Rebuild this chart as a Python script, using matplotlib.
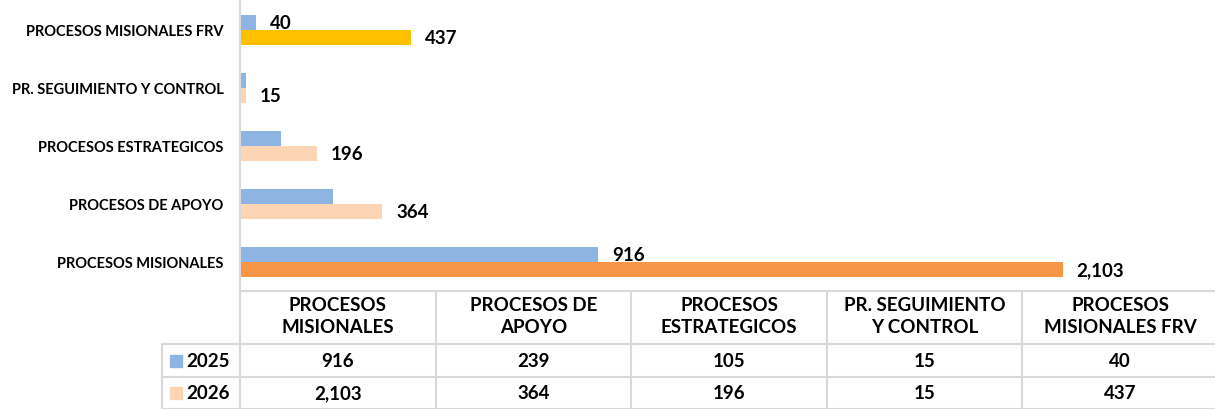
import matplotlib.pyplot as plt
from matplotlib.patches import Rectangle

plt.rcParams["font.family"] = ["Lato", "DejaVu Sans"]
plt.rcParams["font.weight"] = "bold"

categories = ["PROCESOS MISIONALES", "PROCESOS DE APOYO", "PROCESOS ESTRATEGICOS",
              "PR. SEGUIMIENTO Y CONTROL", "PROCESOS MISIONALES FRV"]
header_labels = ["PROCESOS\nMISIONALES", "PROCESOS DE\nAPOYO", "PROCESOS\nESTRATEGICOS",
                 "PR. SEGUIMIENTO\nY CONTROL", "PROCESOS\nMISIONALES FRV"]
series_names = ["2025", "2026"]
values_2025 = [916, 239, 105, 15, 40]
values_2026 = [2103, 364, 196, 15, 437]
label_2025 = [True, False, False, False, True]

BLUE = "#8EB4E3"
PEACH = "#FCD5B5"
colors_2026 = ["#F79646", PEACH, PEACH, PEACH, "#FFC000"]
GRID = "#D9D9D9"
BIG = 13.5

W, H = 1215, 410
fig = plt.figure(figsize=(W / 100, H / 100), dpi=100)

# main bar axes: x 240..1218 px, y 2..292 px from top
ax = fig.add_axes([240 / W, (H - 292) / H, 978 / W, 290 / H])
ypos = list(range(len(categories)))
bh = 0.26
ax.barh([y + bh / 2 for y in ypos], values_2025, height=bh, color=BLUE)
ax.barh([y - bh / 2 for y in ypos], values_2026, height=bh, color=colors_2026)

for y, v, show in zip(ypos, values_2025, label_2025):
    if show:
        ax.annotate(f"{v:,}", (v, y + bh / 2), xytext=(14, 0), textcoords="offset pixels",
                    va="center", ha="left", fontsize=BIG, fontweight="bold")
for y, v in zip(ypos, values_2026):
    ax.annotate(f"{v:,}", (v, y - bh / 2), xytext=(14, 0), textcoords="offset pixels",
                va="center", ha="left", fontsize=BIG, fontweight="bold")

ax.set_xlim(0, 2500)
ax.set_ylim(-0.5, len(categories) - 0.5)
ax.set_xticks([0, 500, 1000, 1500, 2000])
ax.xaxis.set_visible(False)
ax.set_yticks(ypos)
ax.set_yticklabels(categories, fontsize=10.5, fontweight="bold")
ax.tick_params(axis="y", length=0, pad=12)
ax.grid(axis="x", color=GRID, linewidth=1.5)
ax.set_axisbelow(True)
for s in ["top", "right", "bottom"]:
    ax.spines[s].set_visible(False)
ax.spines["left"].set_color(GRID)
ax.spines["left"].set_linewidth(1.5)

# data table below: x in column units, y in pixels from 292
tx = fig.add_axes([240 / W, 0, 978 / W, 118 / H])
tx.set_xlim(0, 5)
tx.set_ylim(118, 0)
tx.axis("off")
n = len(categories)
left = -78 / 195.6
kw = dict(color=GRID, linewidth=1.5, clip_on=False)
for i in range(n + 1):
    tx.plot([i, i], [0, 118], **kw)
tx.plot([0, n], [0, 0], **kw)
for yy in [53, 86, 117.5]:
    tx.plot([left, n], [yy, yy], **kw)
tx.plot([left, left], [53, 118], **kw)

for i, lab in enumerate(header_labels):
    tx.text(i + 0.5, 24.5, lab, ha="center", va="center", fontsize=BIG, fontweight="bold",
            linespacing=1.4)
rows = [(series_names[0], values_2025, BLUE), (series_names[1], values_2026, PEACH)]
for (name, vals, c), yc in zip(rows, [69.5, 102]):
    tx.add_patch(Rectangle((left + 0.04, yc - 6), 0.06, 12, color=c, clip_on=False))
    tx.text(left + 0.125, yc, name, ha="left", va="center", fontsize=BIG, fontweight="bold")
    for i, v in enumerate(vals):
        tx.text(i + 0.5, yc, f"{v:,}", ha="center", va="center", fontsize=BIG,
                fontweight="bold")

fig.savefig("out.png", dpi=100)
